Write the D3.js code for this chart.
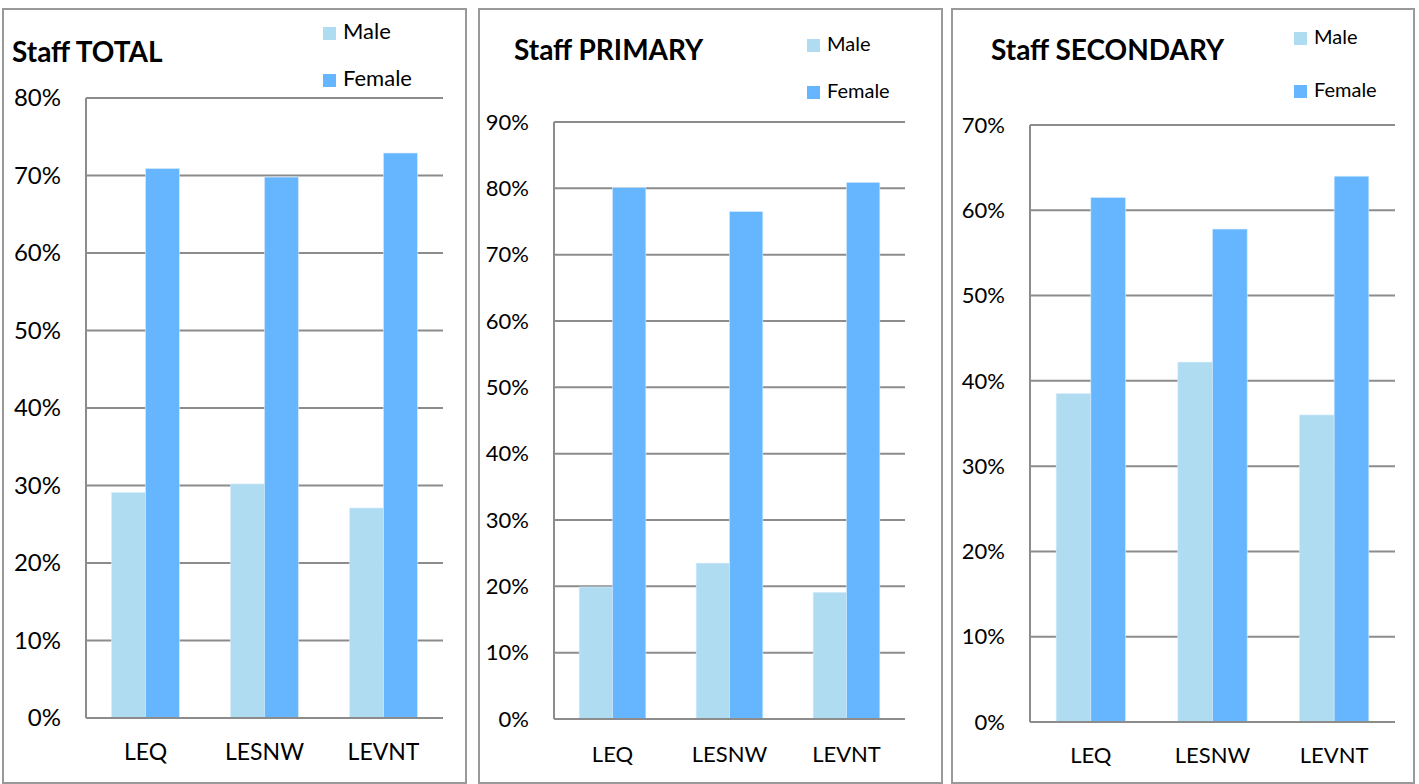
<!DOCTYPE html>
<html>
<head>
<meta charset="utf-8">
<script src="https://cdnjs.cloudflare.com/ajax/libs/d3/7.8.5/d3.min.js"></script>
<style>
  body { margin: 0; background: #fff; }
  svg text { font-family: Lato, "Open Sans", sans-serif; fill: #000; }
</style>
</head>
<body>
<div class="chart"></div>
<script>
const width = 1419, height = 784;

// data
const categories = ["LEQ", "LESNW", "LEVNT"];
const seriesNames = ["Male", "Female"];
const titles = ["Staff TOTAL", "Staff PRIMARY", "Staff SECONDARY"];
const totalMale = [29.1, 30.2, 27.1];
const totalFemale = [70.9, 69.8, 72.9];
const primaryMale = [19.9, 23.5, 19.1];
const primaryFemale = [80.1, 76.5, 80.9];
const secondaryMale = [38.5, 42.2, 36.0];
const secondaryFemale = [61.5, 57.8, 64.0];
const totalTicks = [0, 10, 20, 30, 40, 50, 60, 70, 80];
const primaryTicks = [0, 10, 20, 30, 40, 50, 60, 70, 80, 90];
const secondaryTicks = [0, 10, 20, 30, 40, 50, 60, 70];

const colors = { Male: "#b0dcf2", Female: "#66b6ff" };

// layout of each panel (box, plot area, title, legend)
const panels = [
  { male: totalMale, female: totalFemale, ticks: totalTicks, title: titles[0],
    box: [3, 9, 463, 774], plot: [86, 98, 443, 718],
    titleX: 12, titleY: 62, titleSize: 28,
    legX: 323, legY: [27, 74], legSize: 22, tickSize: 24, catSize: 23, catY: 760 },
  { male: primaryMale, female: primaryFemale, ticks: primaryTicks, title: titles[1],
    box: [479, 9, 463, 774], plot: [554, 122, 905, 719],
    titleX: 514, titleY: 60, titleSize: 28,
    legX: 807, legY: [39, 86], legSize: 20, tickSize: 22, catSize: 22, catY: 762 },
  { male: secondaryMale, female: secondaryFemale, ticks: secondaryTicks, title: titles[2],
    box: [952, 9, 462, 774], plot: [1030, 125, 1395, 722],
    titleX: 991, titleY: 60, titleSize: 28,
    legX: 1294, legY: [32, 85], legSize: 20, tickSize: 22, catSize: 22, catY: 763 }
];

const svg = d3.select(".chart").append("svg")
  .attr("width", width)
  .attr("height", height);

panels.forEach(drawPanel);

function drawPanel(p) {
  const g = svg.append("g");
  const [x0, y0, x1, y1] = p.plot;

  g.append("rect")
    .attr("x", p.box[0]).attr("y", p.box[1])
    .attr("width", p.box[2]).attr("height", p.box[3])
    .attr("fill", "#fff").attr("stroke", "#999").attr("stroke-width", 2);

  const x = d3.scaleBand().domain(categories).range([x0, x1]).paddingInner(0.43).paddingOuter(0.215);
  const xs = d3.scaleBand().domain(seriesNames).range([0, x.bandwidth()]);
  const y = d3.scaleLinear().domain([0, d3.max(p.ticks)]).range([y1, y0]);

  // gridlines
  g.selectAll("line.grid").data(p.ticks).enter().append("line")
    .attr("class", "grid")
    .attr("x1", x0).attr("x2", x1)
    .attr("y1", d => y(d)).attr("y2", d => y(d))
    .attr("stroke", "#8c8c8c").attr("stroke-width", 2);

  // left axis line
  g.append("line")
    .attr("x1", x0).attr("x2", x0).attr("y1", y0).attr("y2", y1)
    .attr("stroke", "#8c8c8c").attr("stroke-width", 2);

  // tick labels
  g.selectAll("text.tick").data(p.ticks).enter().append("text")
    .attr("class", "tick")
    .attr("x", x0 - 25).attr("y", d => y(d))
    .attr("dy", "0.35em")
    .attr("text-anchor", "end")
    .style("font-size", p.tickSize + "px")
    .text(d => d + "%");

  // bars
  const rows = categories.map((c, i) => ({ cat: c, Male: p.male[i], Female: p.female[i] }));
  g.selectAll("g.cat").data(rows).enter().append("g")
    .attr("transform", d => `translate(${x(d.cat)},0)`)
    .selectAll("rect").data(d => seriesNames.map(s => ({ s, v: d[s] }))).enter().append("rect")
    .attr("x", d => xs(d.s)).attr("width", xs.bandwidth())
    .attr("y", d => y(d.v)).attr("height", d => y(0) - y(d.v))
    .attr("fill", d => colors[d.s])
    .attr("stroke", "#d6ecfb").attr("stroke-width", 0.6);

  // bottom axis line
  g.append("line")
    .attr("x1", x0).attr("x2", x1).attr("y1", y1).attr("y2", y1)
    .attr("stroke", "#8c8c8c").attr("stroke-width", 2);

  // category labels
  g.selectAll("text.cat").data(categories).enter().append("text")
    .attr("class", "cat")
    .attr("x", d => x(d) + x.bandwidth() / 2).attr("y", p.catY)
    .attr("text-anchor", "middle")
    .style("font-size", p.catSize + "px")
    .text(d => d);

  // title
  g.append("text")
    .attr("x", p.titleX).attr("y", p.titleY)
    .style("font-size", p.titleSize + "px")
    .style("font-weight", "bold")
    .text(p.title);

  // legend
  seriesNames.forEach((s, i) => {
    g.append("rect")
      .attr("x", p.legX).attr("y", p.legY[i])
      .attr("width", 13).attr("height", 13)
      .attr("fill", colors[s]);
    g.append("text")
      .attr("x", p.legX + 20).attr("y", p.legY[i] + 12)
      .style("font-size", p.legSize + "px")
      .text(s);
  });
}
</script>
</body>
</html>
